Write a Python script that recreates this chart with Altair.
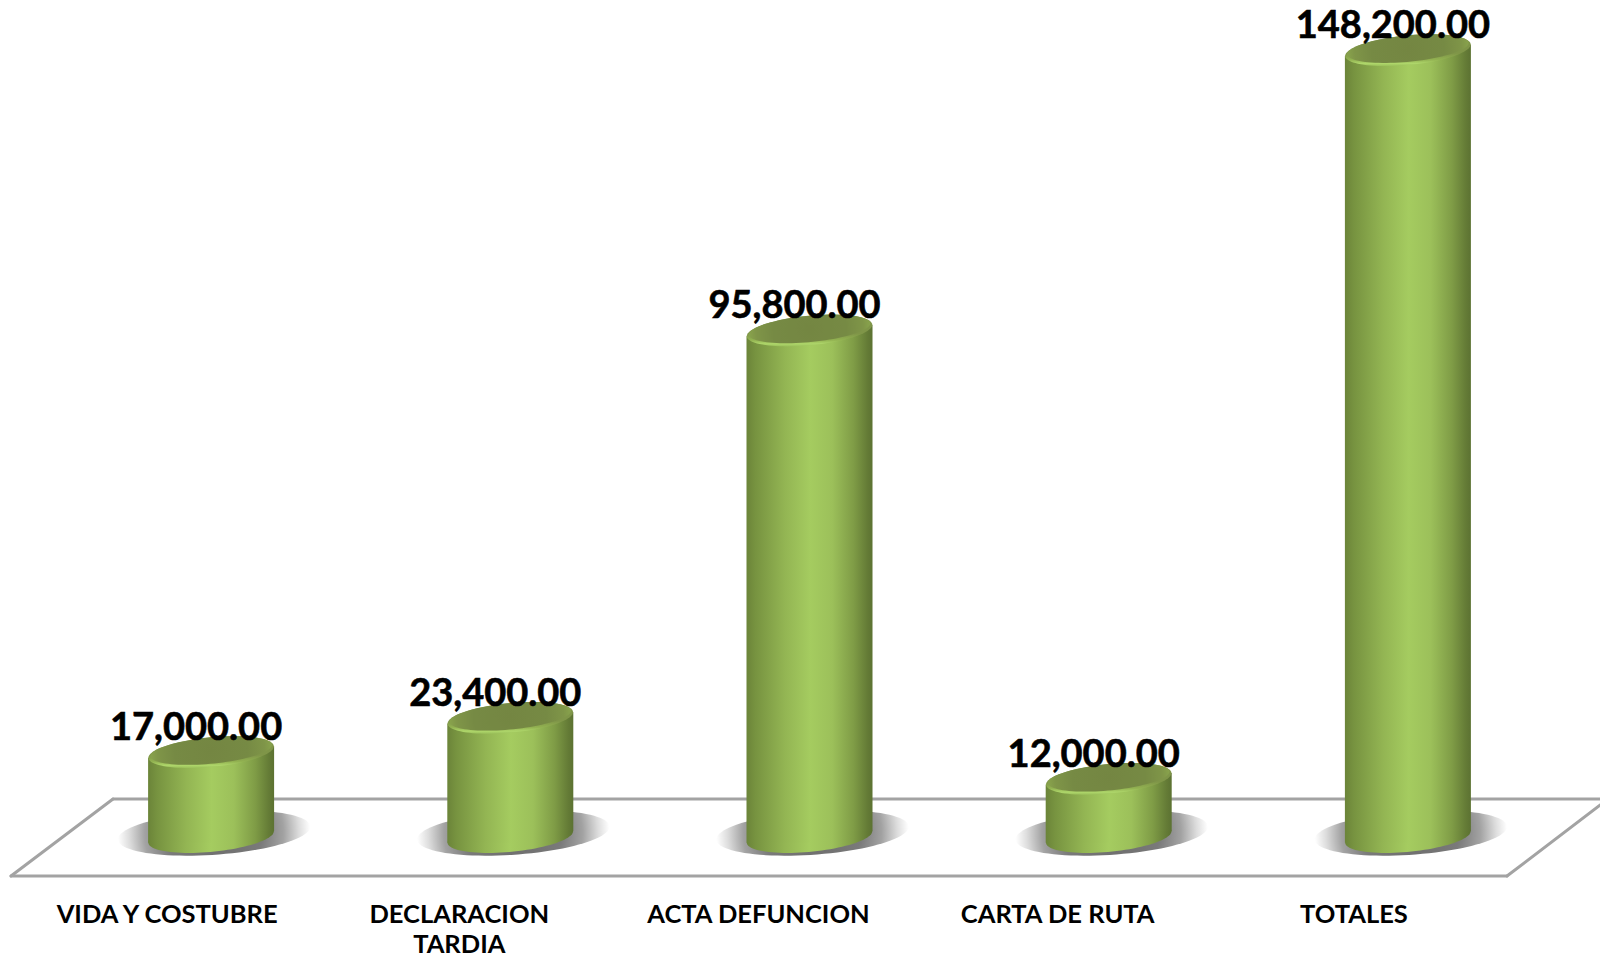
import math
import altair as alt
import pandas as pd

categories = ["VIDA Y COSTUBRE", "DECLARACION TARDIA", "ACTA DEFUNCION", "CARTA DE RUTA", "TOTALES"]
values = [17000, 23400, 95800, 12000, 148200]
zeros = [0, 0, 0, 0, 0]

df = pd.DataFrame({"cat": categories, "v": values, "zero": zeros})

FONT = "Lato"
GRAY = "#a3a3a3"
TILT_DY = 5.7
BASE_DY = -6

def ellipse_path(ry, tilt_deg, n=90):
    t = math.radians(tilt_deg)
    pts = []
    for i in range(n):
        a = 2 * math.pi * i / n
        ex, ey = math.cos(a), ry * math.sin(a)
        pts.append((ex * math.cos(t) - ey * math.sin(t), ex * math.sin(t) + ey * math.cos(t)))
    return "M" + " L".join(f"{x:.4f},{y:.4f}" for x, y in pts) + " Z"

def stops(*pairs):
    return [{"offset": o, "color": c} for o, c in pairs]

def hgrad(*pairs):
    return {"gradient": "linear", "x1": 0, "x2": 1, "y1": 0, "y2": 0, "stops": stops(*pairs)}

body = hgrad((0, "#6b8439"), (0.07, "#779340"), (0.3, "#93b553"), (0.5, "#a5cc60"),
             (0.68, "#9cc05a"), (0.85, "#7f9c46"), (0.96, "#647b36"), (1, "#5c7232"))
body_left = hgrad((0, "#6b8439"), (0.14, "#779340"), (0.6, "#93b553"), (1, "#a5cc60"))
body_right = hgrad((0, "#a5cc60"), (0.36, "#9cc05a"), (0.7, "#7f9c46"), (0.92, "#647b36"), (1, "#5c7232"))
rim = {"gradient": "linear", "x1": 0, "x2": 0, "y1": 0, "y2": 1,
       "stops": stops((0, "#7f9548"), (0.6, "#7f9548"), (0.8, "#92b251"), (0.92, "#aed66a"), (1, "#9ac05a"))}
face = {"gradient": "radial", "x1": 0.5, "y1": 0.5, "x2": 0.5, "y2": 0.5, "r1": 0, "r2": 0.5,
        "stops": stops((0, "#748642"), (0.6, "#768a44"), (0.88, "#7f9548"), (1, "#88a24c"))}
shadow = {"gradient": "radial", "x1": 0.5, "y1": 0.5, "x2": 0.5, "y2": 0.5, "r1": 0, "r2": 0.5,
          "stops": stops((0, "#6a6a6a"), (0.5, "#7a7a7a"), (0.72, "#a2a2a2"), (0.88, "#dcdcdc"), (1, "#ffffff"))}

label_offset = {"condition": [{"test": "datum.label == 'VIDA Y COSTUBRE'", "value": -44},
                              {"test": "datum.label == 'TOTALES'", "value": -54}],
                "value": -51}

x = alt.X("cat:N", sort=categories,
          scale=alt.Scale(type="band", domain=categories, range=[53.5, 1549.5], paddingInner=0, paddingOuter=0),
          axis=alt.Axis(title=None, domain=False, ticks=False, grid=False, labelAngle=0, offset=-74,
                        labelFont=FONT, labelFontWeight="bold", labelFontSize=25.5, labelColor="#000000",
                        labelOffset=label_offset, labelPadding=22, labelBaseline="top", labelLineHeight=30,
                        labelLimit=400,
                        labelExpr="datum.label == 'DECLARACION TARDIA' ? ['DECLARACION', 'TARDIA'] : datum.label"))
yscale = alt.Scale(domain=[-20748, 156075], nice=False, zero=False)
y = alt.Y("v:Q", scale=yscale, axis=None)
y0 = alt.Y("zero:Q", scale=yscale, axis=None)

def rule(x1, y1, x2, y2):
    return alt.Chart(df.head(1)).mark_rule(color=GRAY, strokeWidth=3, strokeCap="round").encode(
        x=alt.value(x1), x2=alt.value(x2), y=alt.value(y1), y2=alt.value(y2))

floor = rule(3, 868, 1499, 868) + rule(105, 791, 1600, 791) + rule(3, 868, 105, 791) + rule(1499, 868, 1600, 791)

base = alt.Chart(df)
shadow_l = base.mark_point(shape=ellipse_path(0.225, -4), size=37249, filled=True, fill=shadow,
                           stroke=None, opacity=1, xOffset=3, yOffset=-10).encode(x=x, y=y0)
bottom_l = base.mark_point(shape=ellipse_path(0.235, -5.5), size=15876, filled=True, fill=body,
                           stroke=None, opacity=1, yOffset=BASE_DY).encode(x=x, y=y0)
left_l = base.mark_bar(size=64, fill=body_left, stroke=None, xOffset=-31, yOffset=TILT_DY,
                       y2Offset=BASE_DY + TILT_DY).encode(x=x, y=y, y2=alt.Y2("zero:Q"))
right_l = base.mark_bar(size=63, fill=body_right, stroke=None, xOffset=31.5, yOffset=-TILT_DY,
                        y2Offset=BASE_DY - TILT_DY).encode(x=x, y=y, y2=alt.Y2("zero:Q"))
top_l = base.mark_point(shape=ellipse_path(0.235, -5.5), size=15876, filled=True, fill=rim,
                        stroke=None, opacity=1).encode(x=x, y=y)
face_l = base.mark_point(shape=ellipse_path(0.215, -5.5), size=14884, filled=True, fill=face,
                         stroke=None, opacity=1, yOffset=-1.5).encode(x=x, y=y)
text_l = base.mark_text(font=FONT, fontWeight="bold", fontSize=38, color="#000000", stroke="#000000",
                        strokeWidth=0.6, align="center", baseline="middle", dx=-15, dy=-23).encode(
    x=x, y=y, text=alt.Text("v:Q", format=",.2f"))

chart = alt.layer(floor, shadow_l, bottom_l, left_l, right_l, top_l, face_l, text_l).properties(
    width=1592, height=946, padding=0, background="#ffffff",
    autosize=alt.AutoSizeParams(type="none")
).configure_view(stroke=None)

chart.save("out.html", embed_options={"renderer": "svg", "actions": False})
